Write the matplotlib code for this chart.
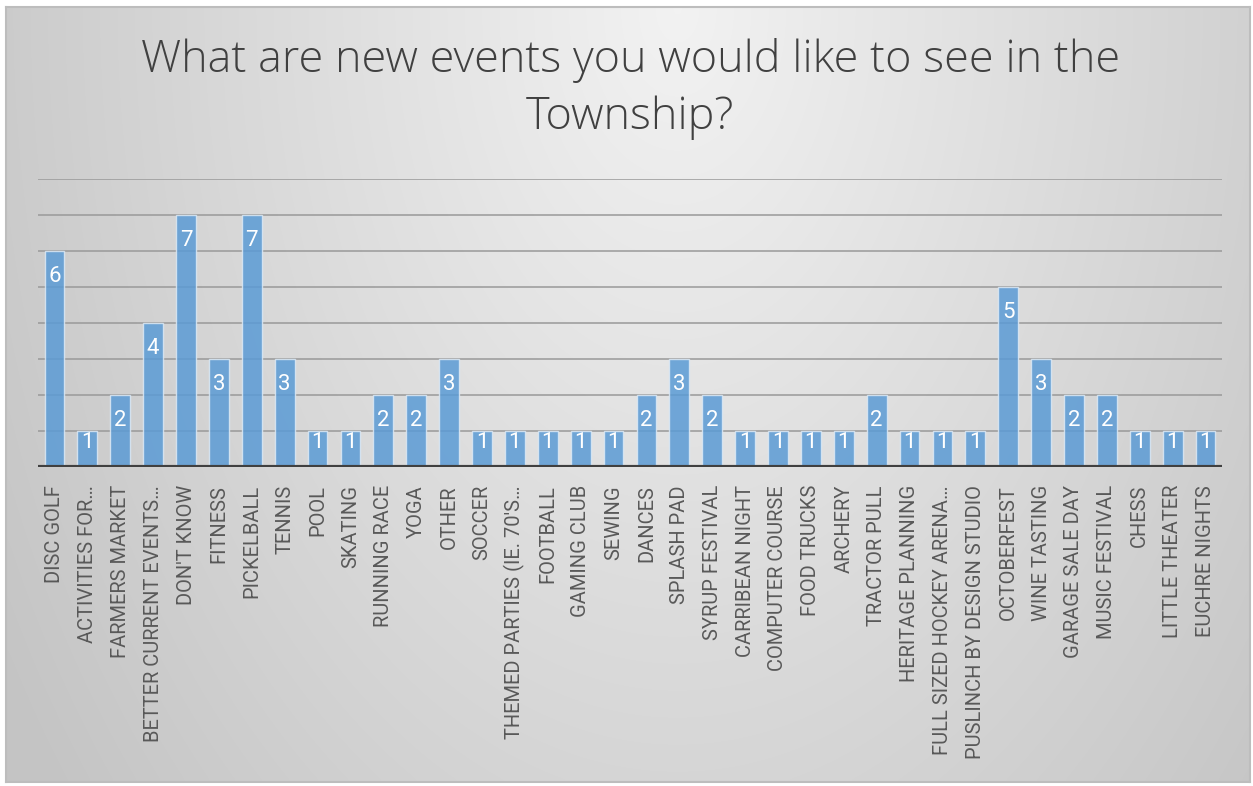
import numpy as np
import matplotlib.pyplot as plt

# survey answers and counts
categories = [
    "DISC GOLF", "ACTIVITIES FOR…", "FARMERS MARKET", "BETTER CURRENT EVENTS…",
    "DON'T KNOW", "FITNESS", "PICKELBALL", "TENNIS", "POOL", "SKATING",
    "RUNNING RACE", "YOGA", "OTHER", "SOCCER", "THEMED PARTIES (IE. 70'S…",
    "FOOTBALL", "GAMING CLUB", "SEWING", "DANCES", "SPLASH PAD",
    "SYRUP FESTIVAL", "CARRIBEAN NIGHT", "COMPUTER COURSE", "FOOD TRUCKS",
    "ARCHERY", "TRACTOR PULL", "HERITAGE PLANNING", "FULL SIZED HOCKEY ARENA…",
    "PUSLINCH BY DESIGN STUDIO", "OCTOBERFEST", "WINE TASTING",
    "GARAGE SALE DAY", "MUSIC FESTIVAL", "CHESS", "LITTLE THEATER",
    "EUCHRE NIGHTS",
]
counts = [6, 1, 2, 4, 7, 3, 7, 3, 1, 1, 2, 2, 3, 1, 1, 1, 1, 1, 2, 3,
          2, 1, 1, 1, 1, 2, 1, 1, 1, 5, 3, 2, 2, 1, 1, 1]
y_grid = [1, 2, 3, 4, 5, 6, 7, 8]

title = "What are new events you would like to see in the\nTownship?"

W, H = 1253, 786
fig = plt.figure(figsize=(W / 100, H / 100), dpi=100)
fig.patch.set_facecolor("white")

# background panel with soft gradient (lighter top-centre, grey edges)
bg = fig.add_axes([6 / W, 1 - 782 / H, 1244 / W, 775 / H])
yy, xx = np.mgrid[0:1:200j, 0:1:300j]
d = np.sqrt((xx - 0.54) ** 2 + (yy / 2.5) ** 2)
shade = np.clip(0.95 - 0.28 * d, 0.77, 0.95)
bg.imshow(np.dstack([shade] * 3), aspect="auto", extent=[0, 1, 0, 1],
          origin="upper", interpolation="bicubic")
bg.set_xticks([])
bg.set_yticks([])
for s in bg.spines.values():
    s.set_color("#bdbdbd")
    s.set_linewidth(1.5)
bg.set_zorder(0)

ax = fig.add_axes([38 / W, 1 - 467 / H, 1184 / W, 288 / H])
ax.set_zorder(1)
ax.patch.set_alpha(0)

x = np.arange(len(categories))
ax.bar(x, counts, width=0.6, color="#5B9BD5", alpha=0.85,
       edgecolor="#dce9f5", linewidth=1.0, zorder=3)

for yv in y_grid:
    ax.axhline(yv, color="#9a9a9a", linewidth=1.4, alpha=0.8, zorder=1)
ax.axhline(0, color="#404040", linewidth=3, zorder=4)

# value labels just inside the top of each bar
for xi, v in zip(x, counts):
    ax.text(xi, max(v - 0.72, 0.69), str(v), ha="center", va="center",
            color="white", fontsize=16, family="Roboto", zorder=5)

ax.set_xlim(-0.5, len(categories) - 0.5)
ax.set_ylim(0, 8)
ax.set_yticks([])
ax.set_xticks(x)
ax.set_xticklabels(categories, rotation=90, fontsize=14.5,
                   family="Roboto", color="#595959")
ax.tick_params(axis="x", length=0, pad=13)
for s in ax.spines.values():
    s.set_visible(False)

fig.text(0.503, 1 - 89 / H, title, ha="center", va="center",
         fontsize=32.4, family="Open Sans", fontweight="light", color="#404040",
         linespacing=1.4)

fig.savefig("out.png", dpi=100)
